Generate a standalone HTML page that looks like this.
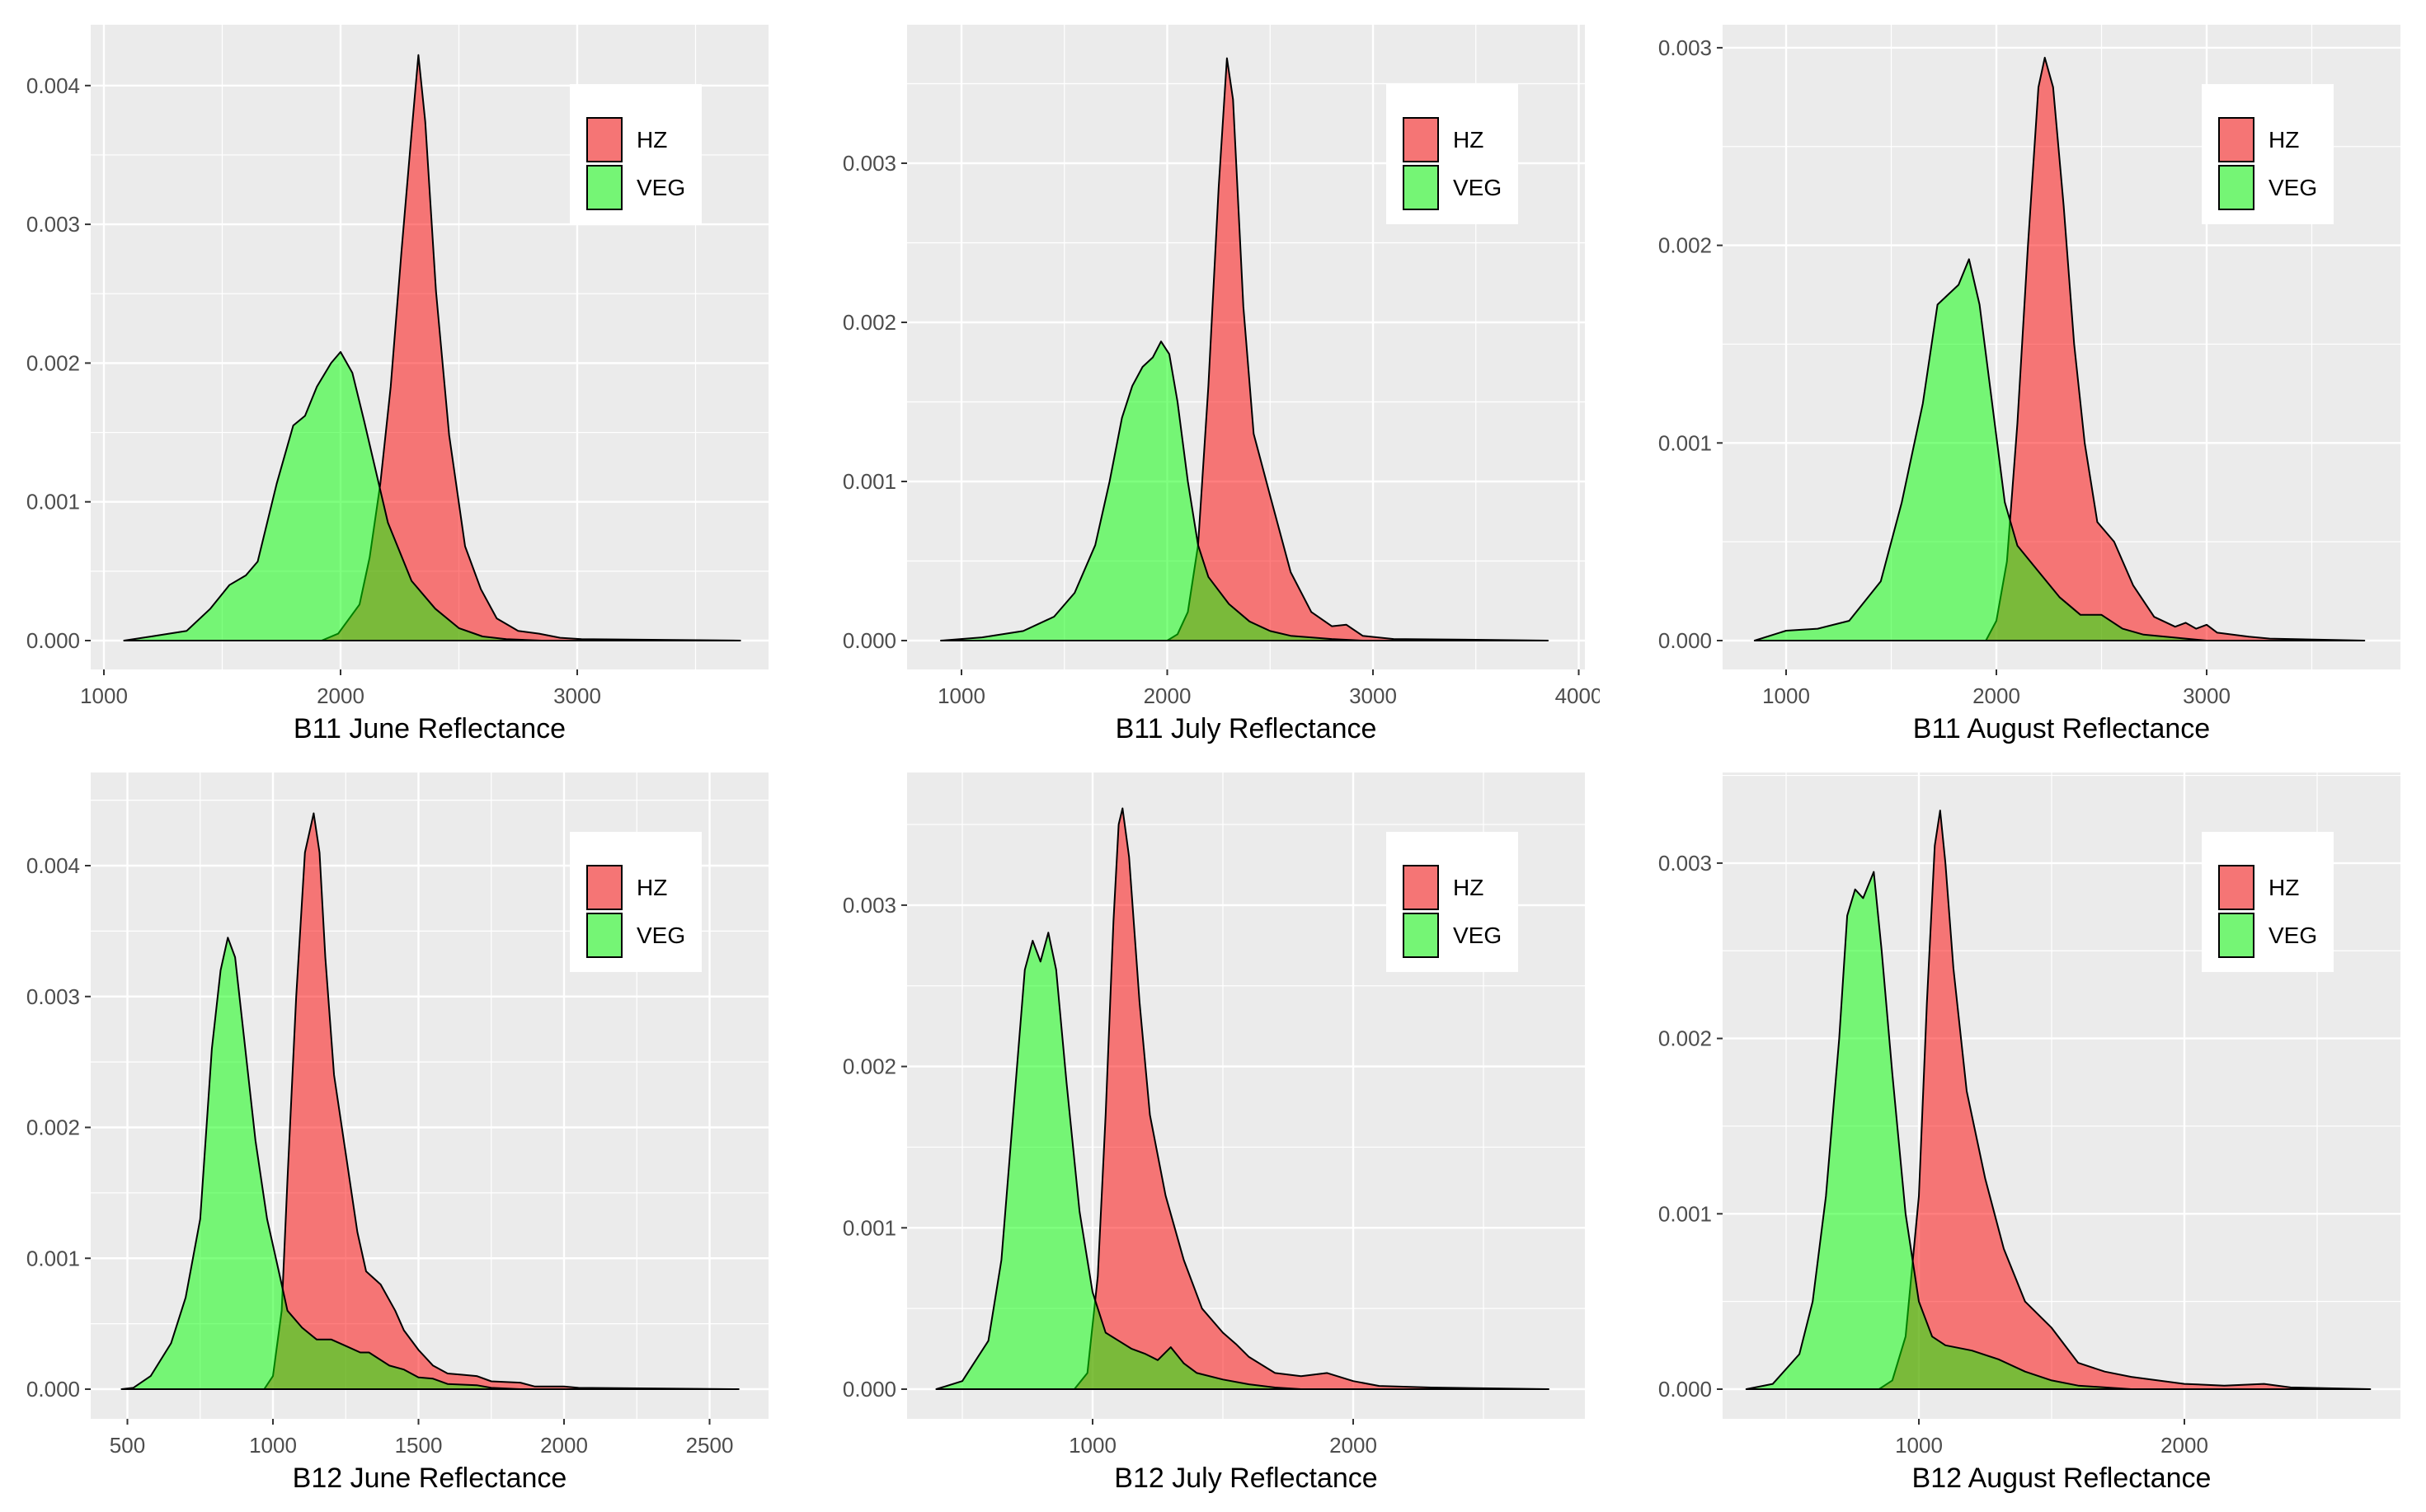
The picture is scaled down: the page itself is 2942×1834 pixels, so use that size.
<!DOCTYPE html>
<html><head><meta charset="utf-8"><style>
html,body{margin:0;padding:0;background:#fff;}
svg{display:block;font-family:"Liberation Sans",Arial,sans-serif;}
</style></head>
<body>
<svg id="fig" width="2942" height="1834" viewBox="0 0 2942 1834" xmlns="http://www.w3.org/2000/svg">
<defs><clipPath id="colclip2"><rect x="1000" y="0" width="940" height="1834"/></clipPath></defs>
</svg>
<script>
// ---- data (x values, density values) ----
const p1HzX=[1920,1990,2080,2123,2168,2212,2257,2302,2329,2358,2403,2459,2526,2593,2660,2750,2839,2928,3018,3689];
const p1HzY=[0,0.00005,0.00026,0.0006,0.00113,0.00183,0.0028,0.0037,0.00422,0.00374,0.00252,0.00148,0.00068,0.00037,0.00016,0.00007,0.00005,0.00002,0.00001,0];
const p1VegX=[1085,1200,1350,1450,1530,1600,1650,1730,1800,1850,1900,1960,2000,2050,2100,2200,2300,2400,2500,2600,2700,2850];
const p1VegY=[0,0.00003,0.00007,0.00023,0.0004,0.00047,0.00057,0.00113,0.00155,0.00162,0.00183,0.002,0.00208,0.00193,0.00158,0.00085,0.00043,0.00023,0.00009,0.00003,0.00001,0];

const p2HzX=[2000,2050,2100,2150,2200,2250,2290,2320,2370,2420,2500,2600,2700,2800,2870,2950,3100,3500,3850];
const p2HzY=[0,0.00004,0.00018,0.0006,0.0016,0.00285,0.00366,0.0034,0.0021,0.0013,0.00091,0.00043,0.00018,0.00009,0.0001,0.00003,0.00001,0.000005,0];
const p2VegX=[900,1100,1300,1450,1550,1650,1720,1780,1830,1880,1930,1970,2010,2050,2100,2150,2200,2300,2400,2500,2600,2800,2950];
const p2VegY=[0,0.00002,0.00006,0.00015,0.0003,0.0006,0.001,0.0014,0.0016,0.00172,0.00178,0.00188,0.0018,0.0015,0.001,0.0006,0.0004,0.00023,0.00012,0.00006,0.00003,0.00001,0];

const p3HzX=[1950,2000,2050,2100,2150,2200,2230,2270,2320,2370,2420,2480,2560,2650,2750,2850,2900,2950,3000,3050,3200,3300,3750];
const p3HzY=[0,0.0001,0.0004,0.0011,0.002,0.0028,0.00295,0.0028,0.0022,0.0015,0.001,0.0006,0.0005,0.00028,0.00012,0.00007,0.00009,0.00006,0.00008,0.00004,0.00002,0.00001,0];
const p3VegX=[850,1000,1150,1300,1450,1550,1650,1720,1770,1820,1870,1920,1980,2040,2100,2200,2300,2400,2500,2600,2700,2900,3000];
const p3VegY=[0,0.00005,0.00006,0.0001,0.0003,0.0007,0.0012,0.0017,0.00175,0.0018,0.00193,0.0017,0.0012,0.0007,0.00048,0.00035,0.00022,0.00013,0.00013,0.00006,0.00003,0.00001,0];

const p4HzX=[970,1000,1030,1050,1080,1110,1140,1160,1180,1210,1250,1290,1320,1370,1420,1450,1500,1550,1600,1650,1700,1750,1850,1900,2000,2050,2600];
const p4HzY=[0,0.0001,0.0006,0.0016,0.003,0.0041,0.0044,0.0041,0.0033,0.0024,0.0018,0.0012,0.0009,0.0008,0.0006,0.00045,0.0003,0.00018,0.00012,0.00011,0.0001,0.00006,0.00005,0.00002,0.00002,0.00001,0];
const p4VegX=[480,520,580,650,700,750,790,820,845,870,900,940,980,1020,1050,1100,1150,1200,1250,1300,1330,1400,1450,1500,1550,1600,1700,1750,1850];
const p4VegY=[0,0.00001,0.0001,0.00035,0.0007,0.0013,0.0026,0.0032,0.00345,0.0033,0.0027,0.0019,0.0013,0.0009,0.0006,0.00047,0.00038,0.00038,0.00033,0.00028,0.00028,0.00018,0.00015,0.00009,0.00008,0.00004,0.00003,0.00001,0];

const p5HzX=[930,980,1020,1050,1080,1100,1115,1140,1180,1220,1280,1350,1420,1500,1550,1600,1700,1800,1900,2000,2100,2300,2750];
const p5HzY=[0,0.0001,0.0007,0.0017,0.0029,0.0035,0.0036,0.0033,0.0024,0.0017,0.0012,0.0008,0.0005,0.00035,0.00028,0.0002,0.0001,0.00008,0.0001,0.00005,0.00002,0.00001,0];
const p5VegX=[400,500,600,650,700,740,770,800,830,860,900,950,1000,1050,1100,1150,1200,1250,1300,1350,1400,1500,1600,1700,1800];
const p5VegY=[0,0.00005,0.0003,0.0008,0.0018,0.0026,0.00278,0.00265,0.00283,0.0026,0.0019,0.0011,0.0006,0.00035,0.0003,0.00025,0.00022,0.00018,0.00026,0.00016,0.0001,0.00006,0.00003,0.00001,0];

const p6HzX=[850,900,950,1000,1030,1060,1080,1100,1130,1180,1250,1320,1400,1500,1600,1700,1800,1900,2000,2150,2300,2400,2700];
const p6HzY=[0,0.00005,0.0003,0.0011,0.0022,0.0031,0.0033,0.003,0.0024,0.0017,0.0012,0.0008,0.0005,0.00035,0.00015,0.0001,0.00007,0.00005,0.00003,0.00002,0.00003,0.00001,0];
const p6VegX=[350,450,550,600,650,700,730,760,790,830,860,900,950,1000,1050,1100,1200,1300,1400,1500,1600,1800];
const p6VegY=[0,0.00003,0.0002,0.0005,0.0011,0.002,0.0027,0.00285,0.0028,0.00295,0.0025,0.0018,0.001,0.0005,0.0003,0.00025,0.00022,0.00017,0.0001,0.00005,0.00002,0];

const p1XTicks=[1000,2000,3000], p2XTicks=[1000,2000,3000,4000], p3XTicks=[1000,2000,3000];
const p4XTicks=[500,1000,1500,2000,2500], p5XTicks=[1000,2000], p6XTicks=[1000,2000];
const yTicks4=[0,0.001,0.002,0.003,0.004], yTicks3=[0,0.001,0.002,0.003];
const titles=["B11 June Reflectance","B11 July Reflectance","B11 August Reflectance","B12 June Reflectance","B12 July Reflectance","B12 August Reflectance"];

// ---- layout ----
const panels=[
 {left:110,top:30,bottom:812,refV:1000,refPx:126,xs:0.287,y0:777,ys:168300,xt:p1XTicks,yt:yTicks4,hx:p1HzX,hy:p1HzY,vx:p1VegX,vy:p1VegY},
 {left:1100,top:30,bottom:812,refV:1000,refPx:1166,xs:0.2495,y0:777,ys:193000,xt:p2XTicks,yt:yTicks3,hx:p2HzX,hy:p2HzY,vx:p2VegX,vy:p2VegY,clip:true},
 {left:2089,top:30,bottom:812,refV:1000,refPx:2166,xs:0.255,y0:777,ys:239700,xt:p3XTicks,yt:yTicks3,hx:p3HzX,hy:p3HzY,vx:p3VegX,vy:p3VegY},
 {left:110,top:937,bottom:1721,refV:500,refPx:154.5,xs:0.353,y0:1685,ys:158750,xt:p4XTicks,yt:yTicks4,hx:p4HzX,hy:p4HzY,vx:p4VegX,vy:p4VegY},
 {left:1100,top:937,bottom:1721,refV:1000,refPx:1325,xs:0.316,y0:1685,ys:195700,xt:p5XTicks,yt:yTicks3,hx:p5HzX,hy:p5HzY,vx:p5VegX,vy:p5VegY},
 {left:2089,top:937,bottom:1721,refV:1000,refPx:2327,xs:0.322,y0:1685,ys:212700,xt:p6XTicks,yt:yTicks3,hx:p6HzX,hy:p6HzY,vx:p6VegX,vy:p6VegY}
];
const W=822;
const NS="http://www.w3.org/2000/svg";
const svg=document.getElementById('fig');
function mk(tag,attrs,parent){const e=document.createElementNS(NS,tag);for(const k in attrs)e.setAttribute(k,attrs[k]);(parent||svg).appendChild(e);return e;}

panels.forEach((p,i)=>{
  const g=mk('g',{});
  
  
  if(p.clip) g.setAttribute('clip-path','url(#colclip2)');
  const right=p.left+W;
  const X=v=>p.refPx+(v-p.refV)*p.xs;
  const Y=v=>p.y0-v*p.ys;
  const bg=mk('rect',{x:p.left,y:p.top,width:W,height:p.bottom-p.top,fill:'#ebebeb'},g);
  
  
  const xstep=p.xt[1]-p.xt[0], ystep=p.yt[1]-p.yt[0];
  const vMin=p.refV-(p.refPx-p.left)/p.xs, vMax=p.refV+(right-p.refPx)/p.xs;
  for(let v=p.xt[0]-xstep/2; v<vMax; v+=xstep){ if(v>vMin){const x=X(v);mk('line',{x1:x,x2:x,y1:p.top,y2:p.bottom,stroke:'#fff','stroke-width':1.2},g);} }
  for(let v=p.yt[0]+ystep/2; Y(v)>p.top; v+=ystep){const y=Y(v);mk('line',{x1:p.left,x2:right,y1:y,y2:y,stroke:'#fff','stroke-width':1.2},g);}
  if(Y(-ystep/2)<p.bottom){const y=Y(-ystep/2);mk('line',{x1:p.left,x2:right,y1:y,y2:y,stroke:'#fff','stroke-width':1.2},g);}
  p.xt.forEach(v=>{const x=X(v);
    const gl=mk('line',{x1:x,x2:x,y1:p.top,y2:p.bottom,stroke:'#fff','stroke-width':2.4},g);
    
    mk('line',{x1:x,x2:x,y1:p.bottom,y2:p.bottom+7,stroke:'#333','stroke-width':2},g);
    const t=mk('text',{x:x,y:p.bottom+41,'text-anchor':'middle','font-size':26,fill:'#4d4d4d'},g);
    t.textContent=String(v);
    
  });
  p.yt.forEach(v=>{const y=Y(v);
    const gl=mk('line',{x1:p.left,x2:right,y1:y,y2:y,stroke:'#fff','stroke-width':2.4},g);
    
    mk('line',{x1:p.left-7,x2:p.left,y1:y,y2:y,stroke:'#333','stroke-width':2},g);
    const t=mk('text',{x:p.left-13,y:y+9,'text-anchor':'end','font-size':26,fill:'#4d4d4d'},g);
    t.textContent=v.toFixed(3);
    
  });
  function area(xs,ys,fill,name){
    let d='M'+X(xs[0]).toFixed(1)+','+Y(0).toFixed(1);
    for(let k=0;k<xs.length;k++) d+=' L'+X(xs[k]).toFixed(1)+','+Y(ys[k]).toFixed(1);
    d+=' L'+X(xs[xs.length-1]).toFixed(1)+','+Y(0).toFixed(1)+' Z';
    const e=mk('path',{d:d,fill:fill,'fill-opacity':0.5,stroke:'#000','stroke-width':2,'stroke-linejoin':'round'},g);
    
    
  }
  area(p.hx,p.hy,'#ff0000','hz-density');
  area(p.vx,p.vy,'#00ff00','veg-density');
  const lx=p.left+581, ly=p.top+72;
  const lg=mk('g',{},g);
  
  
  mk('rect',{x:lx,y:ly,width:160,height:170,fill:'#fff'},lg);
  [['HZ','#f57575',0],['VEG','#75f575',58]].forEach(([lab,col,off])=>{
    const r=mk('rect',{x:lx+21,y:ly+41+off,width:42,height:53,fill:col,stroke:'#000','stroke-width':2},lg);
    
    
    const t=mk('text',{x:lx+81,y:ly+77+off,'font-size':28,fill:'#000'},lg);
    t.textContent=lab;
    
    
  });
  const tt=mk('text',{x:p.left+W/2,y:p.bottom+83,'text-anchor':'middle','font-size':34,fill:'#000'},g);
  tt.textContent=titles[i];
  
  
});
</script>
</body></html>
